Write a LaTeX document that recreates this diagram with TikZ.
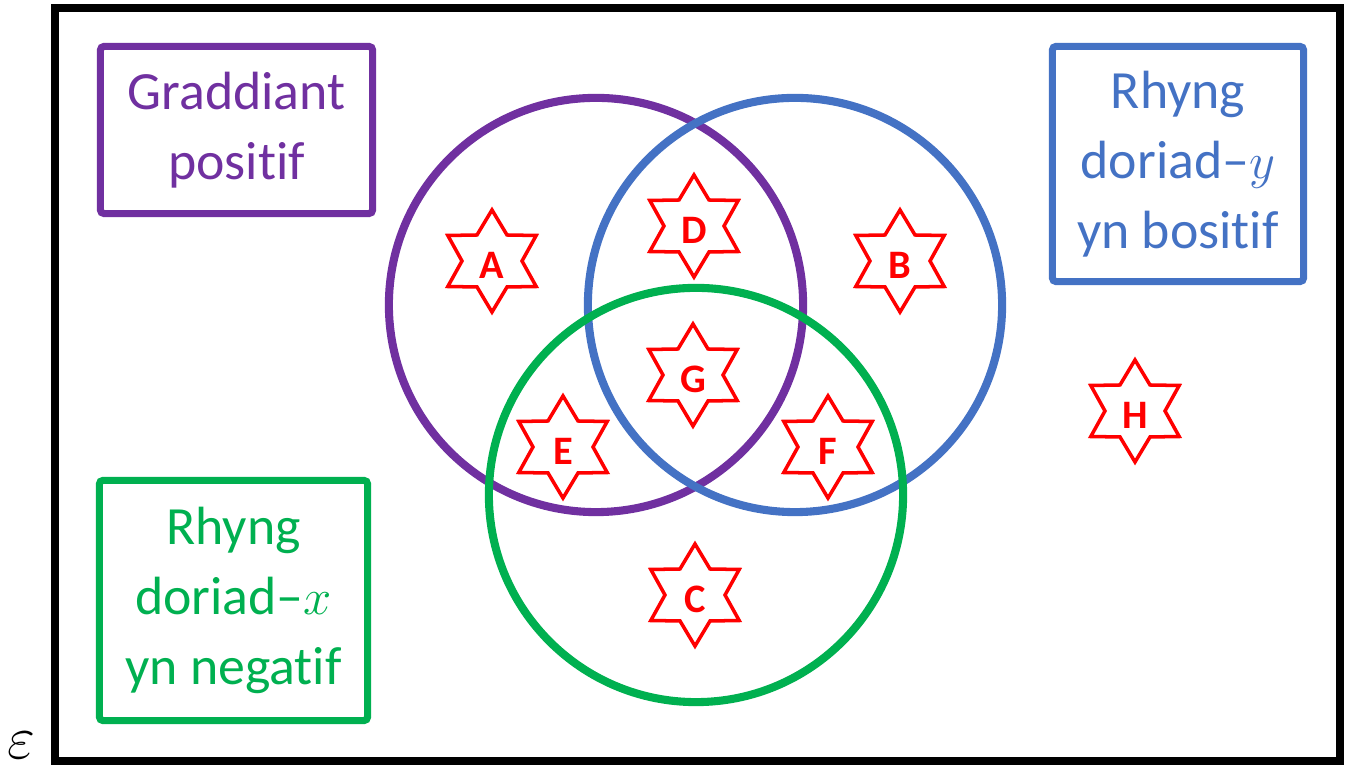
\documentclass[tikz,border=0pt]{standalone}
\usepackage{fontspec}
\setmainfont[Ligatures=NoCommon]{Carlito}
\usetikzlibrary{shapes.geometric}
\definecolor{setp}{RGB}{112,48,160}
\definecolor{setb}{RGB}{68,114,196}
\definecolor{setg}{RGB}{0,176,80}
\definecolor{markr}{RGB}{255,0,0}

\begin{document}
\begin{tikzpicture}[x=0.01cm, y=-0.01cm,
    venn/.style={circle, draw=#1, line width=2.3pt, minimum size=4.14cm},
    keybox/.style={rectangle, draw=#1, text=#1, line width=2pt,
      rounded corners=1pt, align=center,
      font=\fontsize{15.3}{19.9}\selectfont},
    starmark/.style={star, star points=6, star point ratio=1.7, draw=markr,
      line width=1pt, minimum size=1.02cm, inner sep=0pt, text=markr,
      font=\fontsize{11.5}{12}\selectfont\bfseries,
      text height=0.36cm, text depth=0cm}]
  \useasboundingbox (0,0) rectangle (1345,765);
  % universal set
  \node[draw, line width=2.3pt, minimum width=12.85cm, minimum height=7.53cm,
    inner sep=0pt] (univ) at (697.5,384.5) {};
  \node[font=\fontsize{16.5}{18}\selectfont] (eps) at (21,745) {$\varepsilon$};
  % the three sets
  \node[venn=setp] (grad) at (596,305) {};
  \node[venn=setb] (rhy) at (795,305) {};
  \node[venn=setg] (rhx) at (696,495) {};
  % keys
  \node[keybox=setp, minimum width=2.72cm, minimum height=1.67cm]
    (kgrad) at (236.5,130) {Graddiant\\positif};
  \node[keybox=setb, minimum width=2.51cm, minimum height=2.35cm]
    (krhy) at (1178,164) {Rhyng\\doriad--$y$\\yn bositif};
  \node[keybox=setg, minimum width=2.68cm, minimum height=2.40cm]
    (krhx) at (233.5,600.5) {Rhyng\\doriad--$x$\\yn negatif};
  % regions
  \foreach \lbl/\px/\py in {A/492/261, D/694/226, B/900/261, G/693/375,
      E/563/447, F/828/447, C/695/595, H/1135/411}
    \node[starmark] (st\lbl) at (\px,\py) {\lbl};
\end{tikzpicture}
\end{document}
